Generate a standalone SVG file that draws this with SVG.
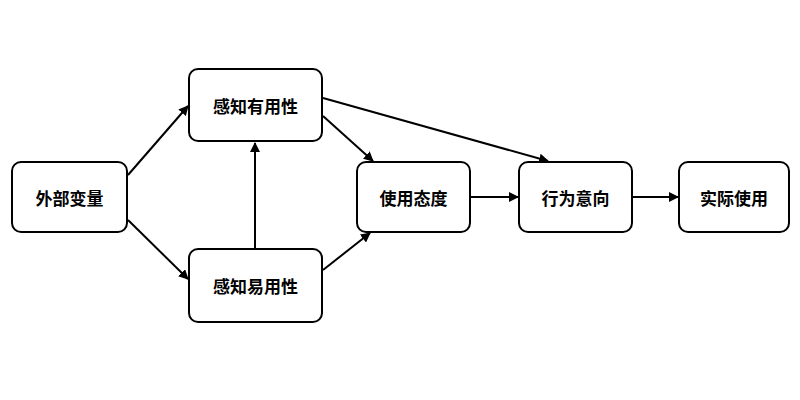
<svg xmlns="http://www.w3.org/2000/svg" width="800" height="400" viewBox="0 0 800 400">
<style>
.n rect{fill:#fff;stroke:#000;stroke-width:2}
.n text{font-family:"Noto Sans CJK SC","Noto Sans",sans-serif;font-size:17px;font-weight:bold;text-anchor:middle;dominant-baseline:central;fill:#000}
.c line{stroke:#000;stroke-width:2;marker-end:url(#a)}
</style>
<defs><marker id="a" markerWidth="10" markerHeight="10" refX="9" refY="5" orient="auto" markerUnits="userSpaceOnUse"><path d="M0,0 L10,5 L0,10 z" fill="#000"/></marker></defs>
<rect width="800" height="400" fill="#fff"/>
<g class="c">
<line x1="128" y1="175" x2="188" y2="106"/>
<line x1="128" y1="220" x2="188" y2="279"/>
<line x1="255" y1="248" x2="255" y2="143"/>
<line x1="323" y1="116" x2="373" y2="161"/>
<line x1="323" y1="98" x2="548" y2="161"/>
<line x1="323" y1="270" x2="370" y2="233"/>
<line x1="471" y1="197" x2="518" y2="197"/>
<line x1="633" y1="197" x2="678" y2="197"/>
</g>
<g id="n1" class="n"><rect x="12" y="162" width="115" height="70" rx="9"/><text x="69.5" y="197">外部变量</text></g>
<g id="n2" class="n"><rect x="189" y="69" width="133" height="72" rx="9"/><text x="255.5" y="105">感知有用性</text></g>
<g id="n3" class="n"><rect x="189" y="249" width="133" height="73" rx="9"/><text x="255.5" y="285">感知易用性</text></g>
<g id="n4" class="n"><rect x="357" y="162" width="113" height="70" rx="9"/><text x="413.5" y="197">使用态度</text></g>
<g id="n5" class="n"><rect x="519" y="162" width="113" height="70" rx="9"/><text x="575.5" y="197">行为意向</text></g>
<g id="n6" class="n"><rect x="679" y="162" width="110" height="70" rx="9"/><text x="734" y="197">实际使用</text></g>
</svg>
